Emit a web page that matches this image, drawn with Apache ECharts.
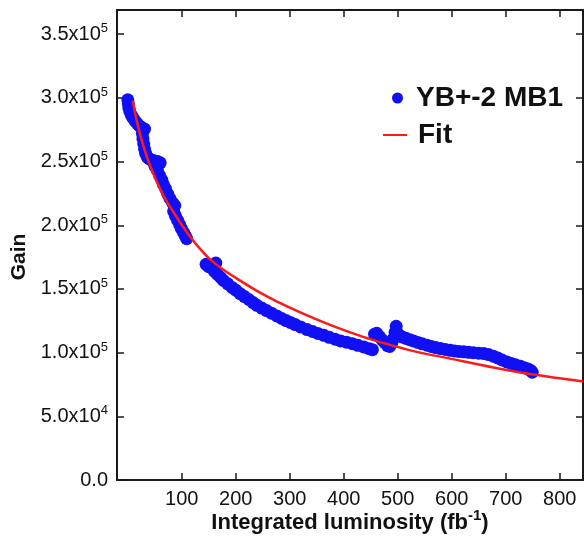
<!DOCTYPE html>
<html>
<head>
<meta charset="utf-8">
<script src="https://cdn.jsdelivr.net/npm/echarts@6/dist/echarts.min.js"></script>
<style>
  html, body { margin: 0; padding: 0; background: #ffffff; }
  #chart { width: 584px; height: 538px; }
</style>
</head>
<body>
<div id="chart"></div>
<script>
// Measured gain of the chamber vs. integrated luminosity
const lumX = [
  0, 1, 2, 4, 7, 10, 14, 18, 22, 26, 31, 27, 28, 29.5, 31, 33, 36, 40, 45, 50,
  55, 60, 50, 55, 59, 63, 66, 70, 74, 78, 83, 87, 85, 88, 92, 96, 99, 103, 106, 109,
  145, 150, 156, 163, 160, 166, 172, 177, 185, 193, 200, 208, 216, 224, 232, 239,
  248, 257, 266, 276, 285, 293, 301, 310, 320, 332, 342, 352, 363, 373, 384, 394,
  405, 416, 426, 437, 447, 453,
  457, 461, 466, 471, 476, 481, 485, 489, 492, 495, 497, 499, 503, 508, 515, 522,
  529, 537, 545, 554, 562, 570, 579, 588, 597, 605, 613, 622, 631, 640, 650, 659,
  668, 677, 685, 693, 702, 710, 718, 727, 734, 741, 746, 749
];
const gainVals = [
  298500, 295500, 292000, 289000, 286000, 284000, 281500, 279500, 277800, 276500,
  275500, 272000, 268000, 264000, 260000, 256500, 253500, 252000, 251000, 250500,
  250000, 249000, 246500, 243000, 239000, 235500, 232000, 228500, 224500, 221000,
  217500, 215500, 211000, 207500, 204000, 200500, 197500, 194500, 192000, 189500,
  169300, 167500, 166500, 170300, 164000, 161500, 159000, 156700, 154000, 151200,
  149000, 146300, 144000, 141700, 139300, 137100, 135000, 133000, 131000, 128800,
  126800, 125200, 123700, 122000, 120200, 118100, 116600, 115100, 113600, 112000,
  110500, 109200, 108200, 107000, 105700, 104500, 103100, 102300,
  114500, 115200, 112500, 110000, 107800, 105500, 104800, 107500, 111000, 116000,
  120700, 115500, 113500, 112300, 111200, 110200, 109200, 108000, 106900, 105800,
  104800, 104000, 103200, 102500, 101800, 101300, 100900, 100600, 100200, 99900,
  99600, 99300, 98500, 97200, 95800, 94200, 92700, 91500, 90400, 89300,
  88200, 87200, 86000, 84600
];

// Fitted curve
const fitX = [9, 14, 23, 32, 42, 54, 69, 85, 100, 119, 140, 153, 177, 208, 239, 270,
  301, 332, 363, 394, 425, 455, 529, 597, 677, 751, 843];
const fitY = [297800, 287000, 271000, 258000, 246000, 234000, 221000, 210000, 200200,
  189000, 178500, 173000, 165000, 156500, 148500, 141500, 135200, 129300, 123800,
  118600, 113900, 109800, 101200, 95300, 88400, 82800, 77400];

// Axis ticks
const xTicks = [100, 200, 300, 400, 500, 600, 700, 800];
const yTicks = [0, 50000, 100000, 150000, 200000, 250000, 300000, 350000];
const yMantissa = ['0.0', '5.0', '1.0', '1.5', '2.0', '2.5', '3.0', '3.5'];
const yExponent = ['', '4', '5', '5', '5', '5', '5', '5'];

const seriesName = 'YB+-2 MB1';
const fitName = 'Fit';

const FONT = '"Liberation Sans", Arial, Helvetica, sans-serif';
const AXIS_COLOR = '#1a1a1a';

const scatterData = lumX.map((x, i) => [x, gainVals[i]]);
const fitData = fitX.map((x, i) => [x, fitY[i]]);

const chart = echarts.init(document.getElementById('chart'), null, { renderer: 'canvas' });

const xBase = {
  type: 'value',
  min: -20,
  max: 843,
  splitLine: { show: false },
  axisLine: { show: true, onZero: false, lineStyle: { color: AXIS_COLOR, width: 2 } },
  axisTick: { show: true, inside: true, length: 7, customValues: xTicks,
    lineStyle: { color: AXIS_COLOR, width: 1.5 } }
};
const yBase = {
  type: 'value',
  min: 0,
  max: 369000,
  splitLine: { show: false },
  axisLine: { show: true, onZero: false, lineStyle: { color: AXIS_COLOR, width: 2 } },
  axisTick: { show: true, inside: true, length: 7, customValues: yTicks,
    lineStyle: { color: AXIS_COLOR, width: 1.5 } }
};

chart.setOption({
  backgroundColor: '#ffffff',
  animation: false,
  grid: { left: 117, right: 1, top: 10, bottom: 58, containLabel: false, outerBoundsMode: 'none' },
  legend: [
    {
      data: [{ name: seriesName, icon: 'circle' }],
      left: 387, top: 79,
      itemWidth: 11, itemHeight: 11,
      textStyle: { fontFamily: FONT, fontWeight: 'bold', fontSize: 28, color: '#111',
        padding: [0, 0, 0, 8] }
    },
    {
      data: [{ name: fitName, icon: 'rect' }],
      left: 378, top: 116,
      itemWidth: 24, itemHeight: 2,
      textStyle: { fontFamily: FONT, fontWeight: 'bold', fontSize: 28, color: '#111',
        padding: [0, 0, 0, 6] }
    }
  ],
  xAxis: [
    Object.assign({}, xBase, {
      position: 'bottom',
      name: '{t|Integrated luminosity (fb}{s|-1}{t|)}',
      nameLocation: 'middle',
      nameGap: 28,
      nameMoveOverlap: false,
      nameTextStyle: {
        rich: {
          t: { fontFamily: FONT, fontWeight: 'bold', fontSize: 22, color: '#111', lineHeight: 30 },
          s: { fontFamily: FONT, fontWeight: 'bold', fontSize: 15, color: '#111',
            verticalAlign: 'top', lineHeight: 30 }
        }
      },
      axisLabel: {
        show: true, margin: 9, customValues: xTicks,
        fontFamily: FONT, fontSize: 20, color: '#111'
      }
    }),
    Object.assign({}, xBase, {
      position: 'top',
      axisLabel: { show: false }
    })
  ],
  yAxis: [
    Object.assign({}, yBase, {
      position: 'left',
      name: 'Gain',
      nameLocation: 'middle',
      nameGap: 87,
      nameTextStyle: { fontFamily: FONT, fontWeight: 'bold', fontSize: 21, color: '#111',
        padding: [0, 24, 0, 0] },
      axisLabel: {
        show: true, margin: 9, customValues: yTicks,
        formatter: function (v) {
          const i = Math.round(v / 50000);
          return yExponent[i] ? '{m|' + yMantissa[i] + 'x10}{e|' + yExponent[i] + '}'
                              : '{m|' + yMantissa[i] + '}';
        },
        rich: {
          m: { fontFamily: FONT, fontSize: 20, color: '#111', lineHeight: 24 },
          e: { fontFamily: FONT, fontSize: 13, color: '#111', verticalAlign: 'top', lineHeight: 24 }
        }
      }
    }),
    Object.assign({}, yBase, {
      position: 'right',
      axisLabel: { show: false }
    })
  ],
  series: [
    {
      name: seriesName,
      type: 'scatter',
      data: scatterData,
      symbol: 'circle',
      symbolSize: 13,
      itemStyle: { color: '#1010f2', opacity: 1 },
      z: 2
    },
    {
      name: fitName,
      type: 'line',
      data: fitData,
      showSymbol: false,
      symbol: 'none',
      smooth: 0.3,
      lineStyle: { color: '#ff1a1a', width: 2.5 },
      itemStyle: { color: '#ff1a1a' },
      z: 3
    }
  ]
});
</script>
</body>
</html>
